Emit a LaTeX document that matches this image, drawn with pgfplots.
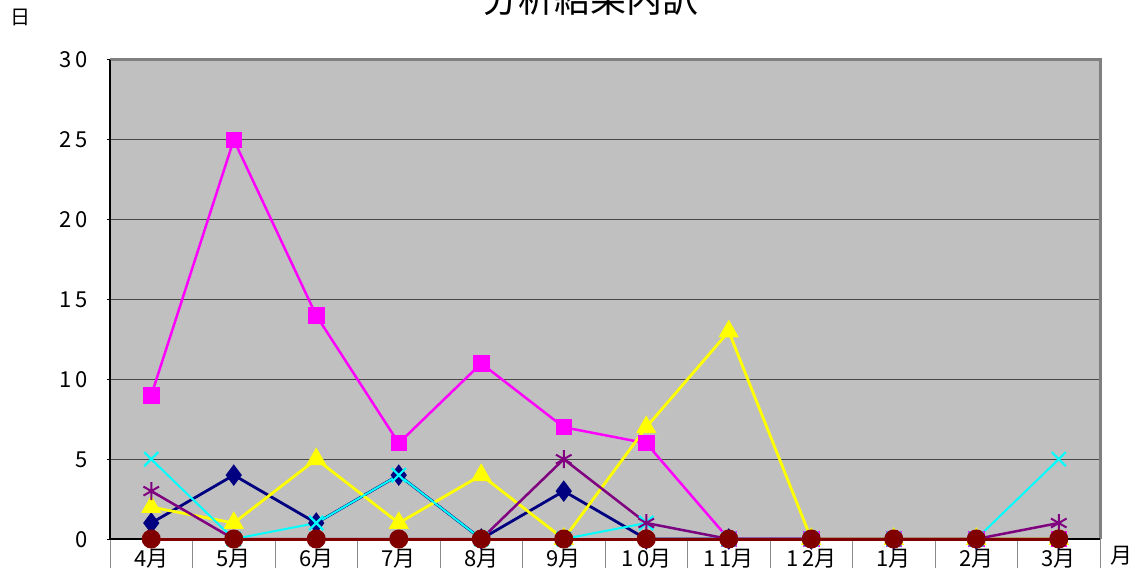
\documentclass[border=0pt]{standalone}
\usepackage{pgfplots}
\pgfplotsset{compat=1.18}
\usepackage{fontspec}
\setmainfont{Noto Sans CJK JP}
\definecolor{bggray}{HTML}{C0C0C0}
\definecolor{cnavy}{HTML}{000080}
\definecolor{cmag}{HTML}{FF00FF}
\definecolor{cyel}{HTML}{FFFF00}
\definecolor{ccyan}{HTML}{00FFFF}
\definecolor{cpur}{HTML}{800080}
\definecolor{cdred}{HTML}{800000}
\newcommand{\dsp}{\kern4pt}
\begin{document}
\begin{tikzpicture}[x=1pt,y=1pt]
\useasboundingbox (0,0) rectangle (1139,568);
\begin{axis}[at={(110pt,29pt)}, anchor=south west, scale only axis,
  width=990pt, height=479pt,
  xmin=-0.5, xmax=11.5, ymin=0, ymax=30,
  clip=false,
  axis background/.style={fill=bggray},
  axis line style={draw=none},
  ymajorgrids, major grid style={black!72, line width=1.2pt},
  ytick={0,5,...,30},
  yticklabels={0,5,1\dsp0,1\dsp5,2\dsp0,2\dsp5,3\dsp0},
  ytick pos=left, ytick align=outside, major tick length=3pt,
  ytick style={black, line width=1pt},
  yticklabel style={anchor=base east, inner sep=0pt, xshift=-19pt, yshift=-8pt, font=\fontsize{22}{22}\selectfont},
  xtick={0,...,11},
  xticklabels={4月,5月,6月,7月,8月,9月,1\dsp0月,1\dsp1月,1\dsp2月,1月,2月,3月},
  xtick pos=bottom,
  xtick style={draw=none},
  xticklabel style={anchor=base, inner sep=0pt, yshift=-27pt, font=\fontsize{22}{22}\selectfont},
  extra x ticks={-0.5,0.5,...,11.5},
  extra x tick labels={},
  extra x tick style={major tick length=29pt, xtick style={draw=black!45, line width=1pt}, xtick align=outside, grid=none},
]
\draw[black!50, line width=3pt] (rel axis cs:0,1) -- (rel axis cs:1,1) -- (rel axis cs:1,0);
\draw[black, line width=2pt] (rel axis cs:0,1) -- (rel axis cs:0,0) -- (rel axis cs:1,0);
\addplot[cnavy, line width=2.8pt, mark=diamond*, mark size=8.5pt, mark options={solid}] coordinates {
(0,1)(1,4)(2,1)(3,4)(4,0)(5,3)(6,0)(7,0)(8,0)(9,0)(10,0)(11,0)};
\addplot[cmag, line width=2.5pt, mark=square*, mark size=7pt] coordinates {
(0,9)(1,25)(2,14)(3,6)(4,11)(5,7)(6,6)(7,0)(8,0)(9,0)(10,0)(11,0)};
\addplot[cyel, line width=2.8pt, mark=triangle*, mark size=9pt] coordinates {
(0,2)(1,1)(2,5)(3,1)(4,4)(5,0)(6,7)(7,13)(8,0)(9,0)(10,0)(11,0)};
\addplot[ccyan, line width=2pt, mark=x, mark size=10pt, mark options={line width=2.2pt}] coordinates {
(0,5)(1,0)(2,1)(3,4)(4,0)(5,0)(6,1)(7,0)(8,0)(9,0)(10,0)(11,5)};
\addplot[cpur, line width=2.5pt, mark=asterisk, mark size=9pt, mark options={line width=2pt}] coordinates {
(0,3)(1,0)(2,0)(3,0)(4,0)(5,5)(6,1)(7,0)(8,0)(9,0)(10,0)(11,1)};
\addplot[cdred, line width=3pt, mark=*, mark size=8pt] coordinates {
(0,0)(1,0)(2,0)(3,0)(4,0)(5,0)(6,0)(7,0)(8,0)(9,0)(10,0)(11,0)};
\end{axis}
\node[anchor=base, inner sep=0pt, font=\fontsize{36}{36}\selectfont] at (590,555) {分析結果内訳};
\node[anchor=base, inner sep=0pt, font=\fontsize{20}{20}\selectfont] at (20,543) {日};
\node[anchor=base, inner sep=0pt, font=\fontsize{22}{22}\selectfont] at (1121,5) {月};
\end{tikzpicture}
\end{document}
